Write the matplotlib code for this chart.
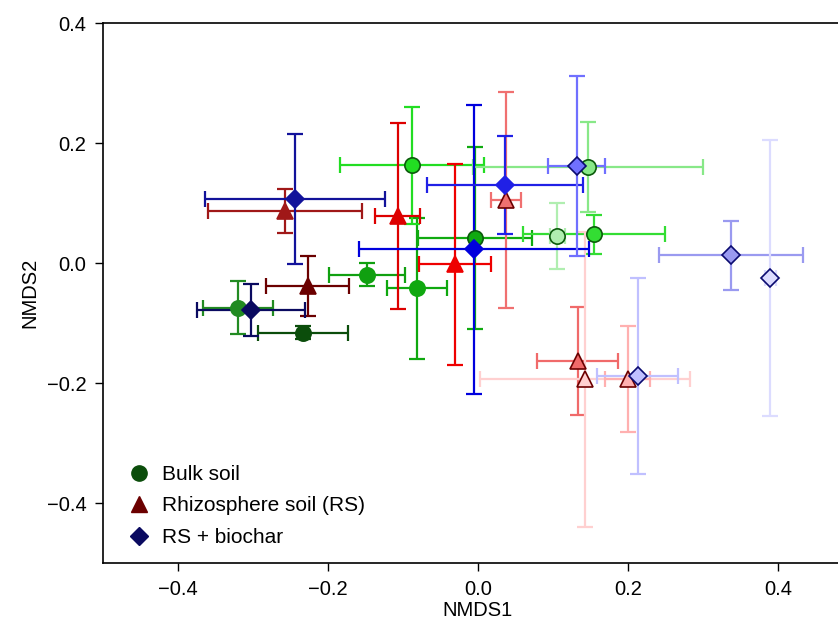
import matplotlib
matplotlib.use("Agg")
import matplotlib.pyplot as plt
from matplotlib.lines import Line2D

plt.rcParams['font.family'] = ['Liberation Sans', 'DejaVu Sans']

# Bulk soil (circles)
bulk_x = [-0.320, -0.233, -0.148, -0.081, -0.088, -0.004, 0.155, 0.147, 0.106]
bulk_y = [-0.074, -0.116, -0.019, -0.042, 0.163, 0.042, 0.048, 0.160, 0.045]
bulk_xerr = [0.047, 0.060, 0.051, 0.040, 0.096, 0.076, 0.095, 0.153, 0.010]
bulk_yerr = [0.044, 0.011, 0.019, 0.118, 0.097, 0.151, 0.033, 0.075, 0.055]
bulk_col = ['#228b22', '#0b4d0b', '#10a010', '#0fa80f', '#22dd22',
            '#10aa10', '#33dd33', '#88e888', '#b0eeb0']

# Rhizosphere soil (triangles)
rs_x = [-0.257, -0.227, -0.107, -0.031, 0.037, 0.133, 0.143, 0.200]
rs_y = [0.087, -0.038, 0.078, -0.002, 0.105, -0.163, -0.194, -0.193]
rs_xerr = [0.103, 0.055, 0.030, 0.048, 0.020, 0.054, 0.140, 0.030]
rs_yerr = [0.037, 0.050, 0.155, 0.167, 0.180, 0.090, 0.246, 0.088]
rs_col = ['#a01818', '#6b0000', '#dd0000', '#ee0000', '#f07070',
          '#f06a6a', '#ffd0d0', '#ffb0b0']

# RS + biochar (diamonds)
bc_x = [-0.244, -0.303, -0.005, 0.036, 0.132, 0.337, 0.390, 0.213]
bc_y = [0.107, -0.078, 0.023, 0.130, 0.162, 0.013, -0.025, -0.188]
bc_xerr = [0.120, 0.072, 0.153, 0.104, 0.038, 0.096, 0.007, 0.054]
bc_yerr = [0.109, 0.044, 0.241, 0.082, 0.150, 0.058, 0.230, 0.163]
bc_col = ['#12129a', '#0a0a60', '#0000dd', '#2020e6', '#7070ff',
          '#9a9af0', '#dcdcff', '#c0c0ff']

fig = plt.figure(figsize=(8.38, 6.27), dpi=100)
ax = fig.add_axes([0.1229, 0.102, 0.895, 0.861])

groups = [
    (bulk_x, bulk_y, bulk_xerr, bulk_yerr, bulk_col, 'o', 11, '#0b5a0b'),
    (rs_x, rs_y, rs_xerr, rs_yerr, rs_col, '^', 11, '#6b0000'),
    (bc_x, bc_y, bc_xerr, bc_yerr, bc_col, 'D', 9.5, '#0a0a70'),
]

for xs, ys, xe, ye, cols, mk, ms, edge in groups:
    for i in range(len(xs)):
        ax.errorbar(xs[i], ys[i], xerr=xe[i], yerr=ye[i], fmt='none',
                    ecolor=cols[i], elinewidth=1.6, capsize=6, capthick=1.6,
                    zorder=2)
for xs, ys, xe, ye, cols, mk, ms, edge in groups:
    for i in range(len(xs)):
        ax.plot(xs[i], ys[i], marker=mk, ms=ms, mfc=cols[i],
                mec=edge if i >= 4 else cols[i], mew=1.2, ls='none', zorder=3)

ax.set_xlim(-0.5, 0.5)
ax.set_ylim(-0.5, 0.4)
ax.set_xticks([-0.4, -0.2, 0.0, 0.2, 0.4])
ax.set_yticks([-0.4, -0.2, 0.0, 0.2, 0.4])
ax.xaxis.set_major_formatter(plt.FuncFormatter(lambda v, p: f"{v:.1f}".replace('-', '\u2212')))
ax.yaxis.set_major_formatter(plt.FuncFormatter(lambda v, p: f"{v:.1f}".replace('-', '\u2212')))
ax.tick_params(direction='out', length=6, width=1, labelsize=14.5, pad=6)
for s in ax.spines.values():
    s.set_linewidth(1.2)
ax.set_xlabel('NMDS1', fontsize=14.5, labelpad=2)
ax.set_ylabel('NMDS2', fontsize=14.5, labelpad=5)

handles = [
    Line2D([], [], marker='o', color='#0b4d0b', ls='none', ms=11),
    Line2D([], [], marker='^', color='#6b0000', ls='none', ms=11),
    Line2D([], [], marker='D', color='#0a0a60', ls='none', ms=9.5),
]
ax.legend(handles, ['Bulk soil', 'Rhizosphere soil (RS)', 'RS + biochar'],
          loc='lower left', frameon=False, fontsize=15, handletextpad=0.1,
          labelspacing=0.6, bbox_to_anchor=(-0.005, -0.005))

fig.savefig('out.png', dpi=100)
